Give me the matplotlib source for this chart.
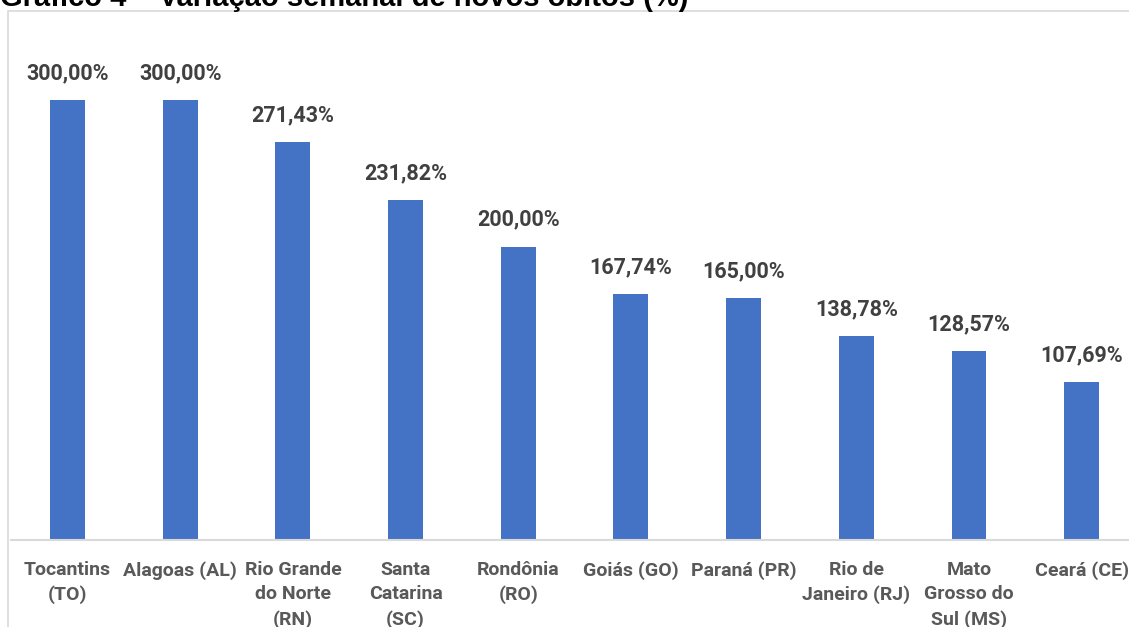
import matplotlib
matplotlib.use("Agg")
import matplotlib.pyplot as plt
import numpy as np
from matplotlib.patches import Rectangle

# Data
estados = ["Tocantins\n(TO)", "Alagoas (AL)", "Rio Grande\ndo Norte\n(RN)", "Santa\nCatarina\n(SC)",
           "Rondônia\n(RO)", "Goiás (GO)", "Paraná (PR)", "Rio de\nJaneiro (RJ)",
           "Mato\nGrosso do\nSul (MS)", "Ceará (CE)"]
variacao = [300.00, 300.00, 271.43, 231.82, 200.00, 167.74, 165.00, 138.78, 128.57, 107.69]
titulo = "Gráfico 4 – Variação semanal de novos óbitos (%)"

W, H = 1129, 627
fig = plt.figure(figsize=(W / 100, H / 100), dpi=100)

# chart frame (light gray border, cut off at right/bottom)
fig.patches.append(Rectangle((8 / W, -0.05), 1.1, 1 - 11 / H + 0.05, transform=fig.transFigure,
                             fill=False, edgecolor="#d9d9d9", linewidth=1.2))

# axes placed in pixel terms
left, right = 11.2, 1138
bottom, top = 540, 40
ax = fig.add_axes([left / W, 1 - bottom / H, (right - left) / W, (bottom - top) / H])
ax.set_facecolor("none")

x = np.arange(len(variacao))
ax.bar(x, variacao, width=0.31, color="#4472c4")
ax.set_xlim(-0.5, len(variacao) - 0.5)
ax.set_ylim(0, 500 / (440 / 300))

for xi, v in zip(x, variacao):
    ax.annotate(f"{v:.2f}%".replace(".", ","), (xi, v), xytext=(0, 15), textcoords="offset points",
                ha="center", va="baseline", fontsize=15.5, fontweight="bold",
                color="#404040", family="Roboto")

for s in ["left", "right", "top"]:
    ax.spines[s].set_visible(False)
ax.spines["bottom"].set_color("#d9d9d9")
ax.spines["bottom"].set_linewidth(1.5)
ax.set_yticks([])
ax.set_xticks(x)
ax.set_xticklabels(estados, fontsize=14, fontweight="bold", color="#595959",
                   family="Roboto", linespacing=1.45)
ax.tick_params(axis="x", length=0, pad=15)

fig.text(0.0, 1 - 6 / H, titulo, ha="left", va="baseline", fontsize=21,
         fontweight="bold", family="Liberation Sans", color="black")

fig.savefig("out.png", dpi=100)
